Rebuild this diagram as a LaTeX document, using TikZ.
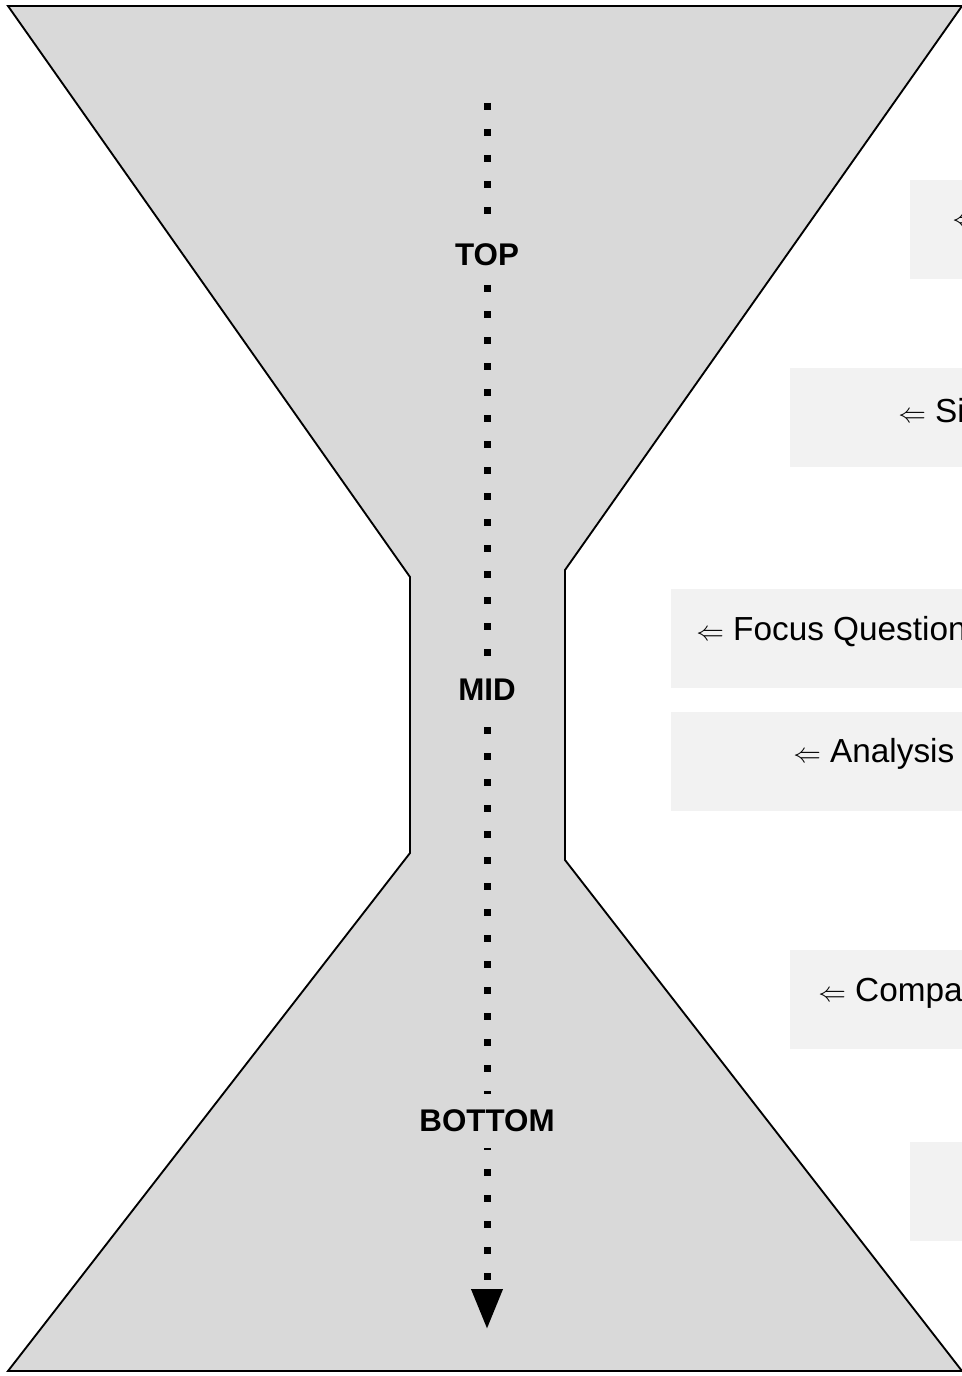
\documentclass[tikz,border=0pt]{standalone}
\usepackage{fontspec}
\setmainfont{Liberation Sans}
\usetikzlibrary{arrows.meta}
\definecolor{glass}{HTML}{D9D9D9}
\definecolor{notefill}{HTML}{F2F2F2}
\newcommand{\larr}{{\fontsize{21}{23}\selectfont$\Leftarrow$}}
\begin{document}
\begin{tikzpicture}[x=0.75pt,y=-0.75pt,
  lvl/.style={fill=glass,font=\bfseries\fontsize{23.5}{27}\selectfont,inner sep=0pt,minimum height=40pt,minimum width=30pt},
  notebox/.style={fill=notefill,anchor=north west,minimum width=300pt,minimum height=74pt,inner sep=0pt},
  notetext/.style={anchor=west,inner sep=0pt,font=\fontsize{25}{30}\selectfont}]
\useasboundingbox (0,0) rectangle (962,1376);
% hourglass
\draw[fill=glass,line width=1.4pt,line join=miter]
  (8,6) -- (962,6) -- (565,570) -- (565,860) -- (962,1371) -- (8,1371)
  -- (410,853) -- (410,577) -- cycle;
% notes on the right
\node[notebox] (n1) at (910,180) {};
\node[notebox] (n2) at (790,368) {};
\node[notebox] (n3) at (671,589) {};
\node[notebox] (n4) at (671,712) {};
\node[notebox] (n5) at (790,950) {};
\node[notebox] (n6) at (910,1142) {};
\node[notetext] (t1) at (952,222) {\larr};
\node[notetext] (t2) at (898,411) {\larr{} Si};
\node[notetext] (t3) at (696,632) {\larr{} Focus Question};
\node[notetext] (t4) at (793,754) {\larr{} Analysis};
\node[notetext] (t5) at (818,993) {\larr{} Compa};
% flow
\coordinate (start) at (487,103);
\coordinate (stop) at (487,1329);
\draw[line width=5.25pt,dash pattern=on 5.25pt off 14.25pt,
  -{Triangle[length=30pt,width=22.5pt]}] (start) -- (stop);
\node[lvl] (top) at (487,255) {TOP};
\node[lvl] (mid) at (487,690) {MID};
\node[lvl] (bot) at (487,1121) {BOTTOM};
\end{tikzpicture}
\end{document}
